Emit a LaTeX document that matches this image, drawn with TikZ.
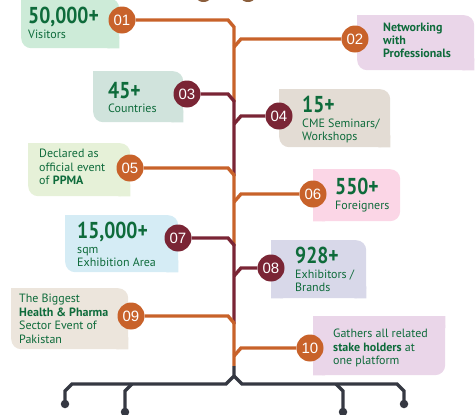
\documentclass[tikz,border=0pt]{standalone}
\usepackage{fontspec}
\setmainfont{PT Sans}
\newfontfamily\numfont{PT Sans}[FakeStretch=0.85]
\newfontfamily\circfont{Liberation Sans}

\definecolor{orangec}{HTML}{C8622A}
\definecolor{maroonc}{HTML}{7A2535}
\definecolor{darkc}{HTML}{353842}
\definecolor{greenc}{HTML}{0E6B3B}
\definecolor{brownc}{HTML}{8B5E3C}
\definecolor{c01}{HTML}{CDEBD8}
\definecolor{c02}{HTML}{EAD6E9}
\definecolor{c03}{HTML}{D0E3DC}
\definecolor{c04}{HTML}{E3DCD4}
\definecolor{c05}{HTML}{E6F1D8}
\definecolor{c06}{HTML}{FBD6E6}
\definecolor{c07}{HTML}{D5ECF5}
\definecolor{c08}{HTML}{D8D8E9}
\definecolor{c09}{HTML}{ECE5DC}
\definecolor{c10}{HTML}{EAD6E9}

\newcommand\bignum[1]{{\numfont\bfseries\fontsize{23}{23}\selectfont #1}}

\begin{document}
\begin{tikzpicture}[x=1pt,y=-1pt,
  leaf/.style={rounded corners=10pt, inner sep=0pt, anchor=north west},
  txt/.style={anchor=north west, inner sep=0pt, align=left, text=greenc,
    font=\fontsize{12}{13.5}\selectfont},
  circ/.style={circle, minimum size=27pt, inner sep=0pt, text=white,
    font=\circfont\fontsize{15}{15}\selectfont},
  line/.style={line width=3.4pt},
  dot/.style={circle, fill=darkc, minimum size=8.5pt, inner sep=0pt}]
  \useasboundingbox (0,0) rectangle (475,415);
  \clip (0,0) rectangle (475,415);

  \fill[brownc] (203.5,-2) ellipse[x radius=6.5, y radius=4];
  \fill[brownc] (248,-2) ellipse[x radius=6.5, y radius=4];

  \node[leaf, fill=c01, minimum width=98pt, minimum height=50pt] (b01) at (21,-2) {};
  \node[leaf, fill=c02, minimum width=117pt, minimum height=55pt] (b02) at (357,15) {};
  \node[leaf, fill=c03, minimum width=90pt, minimum height=51pt] (b03) at (93,71) {};
  \node[leaf, fill=c04, minimum width=111pt, minimum height=58pt] (b04) at (279,89) {};
  \node[leaf, fill=c05, minimum width=102pt, minimum height=53pt] (b05) at (28,143) {};
  \node[leaf, fill=c06, minimum width=87pt, minimum height=52pt] (b06) at (313,169) {};
  \node[leaf, fill=c07, minimum width=113pt, minimum height=57pt] (b07) at (65,215) {};
  \node[leaf, fill=c08, minimum width=95pt, minimum height=58pt] (b08) at (271,240) {};
  \node[leaf, fill=c09, minimum width=117pt, minimum height=61pt] (b09) at (11,288) {};
  \node[leaf, fill=c10, minimum width=132pt, minimum height=59pt] (b10) at (313,316) {};

  \fill[c01] (b01.north west) rectangle +(12,12) (b01.south east) rectangle +(-12,-12);
  \fill[c02] (b02.north west) rectangle +(12,12) (b02.south east) rectangle +(-12,-12);
  \fill[c03] (b03.north west) rectangle +(12,12) (b03.south east) rectangle +(-12,-12);
  \fill[c04] (b04.north west) rectangle +(12,12) (b04.south east) rectangle +(-12,-12);
  \fill[c05] (b05.north west) rectangle +(12,12) (b05.south east) rectangle +(-12,-12);
  \fill[c06] (b06.north west) rectangle +(12,12) (b06.south west) rectangle +(12,-12);
  \fill[c07] (b07.north west) rectangle +(12,12) (b07.south east) rectangle +(-12,-12);
  \fill[c08] (b08.north west) rectangle +(12,12) (b08.south east) rectangle +(-12,-12)
    (b08.south west) rectangle +(12,-12);
  \fill[c09] (b09.north west) rectangle +(12,12) (b09.south east) rectangle +(-12,-12);
  \fill[c10] (b10.north west) rectangle +(12,12) (b10.south west) rectangle +(12,-12)
    (b10.north east) rectangle +(-12,12);

  \node[txt] (t01) at (28,7) {\bignum{50,000+}\\[1pt]Visitors};
  \node[txt, font=\bfseries\fontsize{12}{13}\selectfont] (t02) at (383,23) {Networking\\with\\Professionals};
  \node[txt] (t03) at (108,82) {\bignum{45+}\\[1pt]Countries};
  \node[txt] (t04) at (302,96) {\bignum{15+}\\[1pt]CME Seminars/\\Workshops};
  \node[txt] (t05) at (39,149) {Declared as\\official event\\of \textbf{PPMA}};
  \node[txt] (t06) at (335,178) {\bignum{550+}\\[1pt]Foreigners};
  \node[txt] (t07) at (77,222) {\bignum{15,000+}\\[1pt]sqm\\Exhibition Area};
  \node[txt] (t08) at (295,247) {\bignum{928+}\\[1pt]Exhibitors /\\Brands};
  \node[txt] (t09) at (19,294) {The Biggest\\\textbf{Health \& Pharma}\\Sector Event of\\Pakistan};
  \node[txt] (t10) at (333,329) {Gathers all related\\\textbf{stake holders} at\\one platform};

  \node[circ, fill=orangec] (n01) at (122,20) {01};
  \node[circ, fill=orangec] (n02) at (355,39) {02};
  \node[circ, fill=maroonc] (n03) at (187,94) {03};
  \node[circ, fill=maroonc] (n04) at (279,116) {04};
  \node[circ, fill=orangec] (n05) at (130,168) {05};
  \node[circ, fill=orangec] (n06) at (313,194) {06};
  \node[circ, fill=maroonc] (n07) at (178,238) {07};
  \node[circ, fill=maroonc] (n08) at (271,268) {08};
  \node[circ, fill=orangec] (n09) at (131,316) {09};
  \node[circ, fill=orangec] (n10) at (310,348) {10};

  \coordinate (s03) at (234,102);
  \coordinate (s05) at (234,176);
  \coordinate (s07) at (234,246);
  \coordinate (s09) at (234,324);
  \coordinate (s11) at (234,366);

  \draw[line, orangec] (n01) -- (228,20) -- (234,27) -- (s03);
  \draw[line, orangec] (234,47) -- (241,39) -- (n02);
  \draw[line, maroonc] (n03) -- (228,94) -- (234,101) -- (s05);
  \draw[line, maroonc] (234,124) -- (241,116) -- (n04);
  \draw[line, orangec] (n05) -- (228,168) -- (234,175) -- (s07);
  \draw[line, orangec] (234,202) -- (241,194) -- (n06);
  \draw[line, maroonc] (n07) -- (228,238) -- (234,245) -- (s09);
  \draw[line, maroonc] (234,276) -- (241,268) -- (n08);
  \draw[line, orangec] (n09) -- (228,316) -- (234,323) -- (s11);
  \draw[line, orangec] (234,356) -- (241,348) -- (n10);

  \node[dot] (d1) at (65,404) {};
  \node[dot] (d2) at (125,412) {};
  \node[dot] (d3) at (343,412) {};
  \node[dot] (d4) at (404,404) {};

  \draw[line, darkc] (s11) -- (234,376) -- (226,384) -- (72,384) -- (65,391) -- (d1.center);
  \draw[line, darkc] (234,376) -- (242,384) -- (397,384) -- (404,391) -- (d4.center);
  \draw[line, darkc] (132,384) -- (125,391) -- (d2.center);
  \draw[line, darkc] (336,384) -- (343,391) -- (d3.center);
\end{tikzpicture}
\end{document}
